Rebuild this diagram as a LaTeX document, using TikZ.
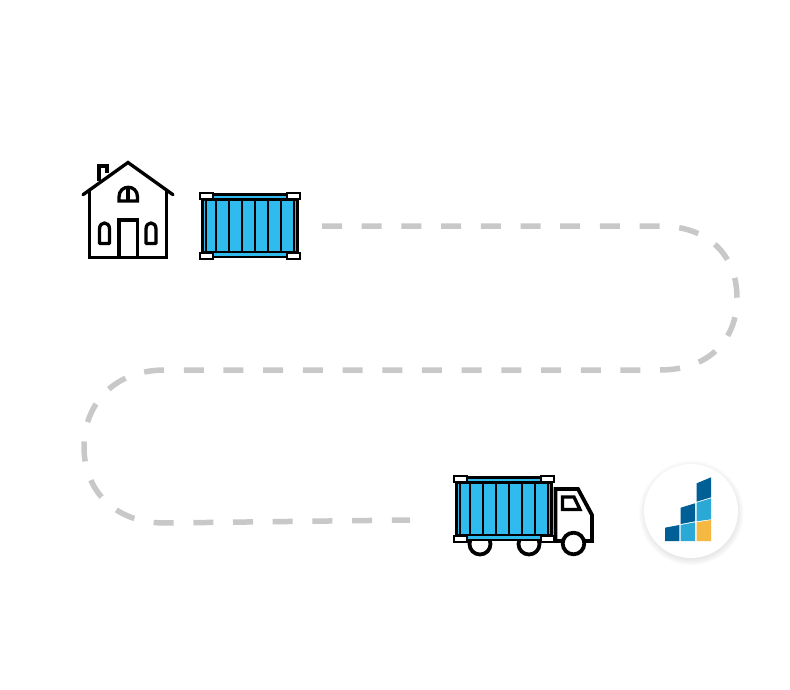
\documentclass[tikz,border=0pt]{standalone}
\usepackage{xcolor}
\usetikzlibrary{shadows}
\definecolor{cargoblue}{HTML}{2FBBEE}
\definecolor{routegray}{HTML}{C8C8C8}
\definecolor{logodark}{HTML}{005F94}
\definecolor{logolight}{HTML}{2BA9D6}
\definecolor{logoyellow}{HTML}{F5B840}
\tikzset{
    icon/.style={draw=black, line width=3.3pt, line join=miter},
    thin icon/.style={draw=black, line width=2.8pt},
    route/.style={draw=routegray, line width=5.5pt, dash pattern=on 20pt off 19.7pt},
    pics/container/.style={code={
        \fill [cargoblue] (201,194) rectangle (298,258);
        \draw [thin icon] (202.3,194.5) rectangle (297.3,257);
        \draw [thin icon] (202.3,199.5) -- (297.3,199.5);
        \draw [thin icon] (202.3,252) -- (297.3,252);
        \foreach \xrib in {206,216,229,242,255,268,281,294} {
            \draw [thin icon] (\xrib,198) -- (\xrib,253);
        }
        \foreach \xcorner in {200,287} {
            \foreach \ycorner in {193,253} {
                \draw [draw=black, line width=2pt, fill=white] (\xcorner,\ycorner) rectangle ++(12.5,5.5);
            }
        }
    }}
}
\begin{document}
\begin{tikzpicture}[x=1pt, y=-1pt]
\useasboundingbox [fill=white] (0,0) rectangle (790,690);

% route
\coordinate (routestart) at (322,226);
\coordinate (routeend) at (410,520);
\draw [route] (routestart) -- (660,226)
    .. controls (708,226) and (737,255) .. (737,298)
    .. controls (737,341) and (708,370) .. (660,370)
    -- (165,370)
    .. controls (113,370) and (84,405) .. (84,447)
    .. controls (84,489) and (113,523) .. (165,523)
    -- (routeend);

% house
\draw [icon] (99,181) -- (99,166) -- (107,166) -- (107,173);
\draw [icon, line cap=round] (83,194.7) -- (128,162.5) -- (173,194.7);
\draw [icon] (89.3,188.5) -- (89.3,257.5) -- (166.7,257.5) -- (166.7,188.5);
\draw [icon] (119,257.5) -- (119,220) -- (137.3,220) -- (137.3,257.5);
\draw [icon] (119,201) -- (119,197) .. controls (119,184) and (137.5,184) .. (137.5,197) -- (137.5,201) -- cycle;
\draw [icon] (128,188) -- (128,201);
\draw [icon, line join=round] (99.5,243.5) -- (99.5,229) .. controls (99.5,221) and (109.5,221) .. (109.5,229) -- (109.5,243.5) -- cycle;
\draw [icon, line join=round] (146,243.5) -- (146,229) .. controls (146,221) and (156,221) .. (156,229) -- (156,243.5) -- cycle;

\pic at (0,0) {container};

% truck
\draw [icon, line width=3.8pt, fill=white] (480,544) circle (10.5);
\draw [icon, line width=3.8pt, fill=white] (529,544) circle (10.5);
\draw [icon, line width=3.8pt, fill=white] (555.5,541) -- (555.5,489) -- (578,489) -- (592,515) -- (592,541) -- cycle;
\draw [icon, line width=3.8pt, fill=white] (573.5,543.5) circle (10.8);
\draw [icon] (562.5,497) -- (574,497) -- (580,509.5) -- (562.5,509.5) -- cycle;
\pic at (254,283) {container};

% logo
\node (logo) [circle, fill=white, minimum size=94pt, inner sep=0pt,
    circular drop shadow={shadow xshift=0pt, shadow yshift=-1.5pt, shadow scale=1.12, opacity=0.2}] at (691,511) {};
\fill [logodark] (665,527.7) -- (679.3,525) -- (679.3,541) -- (665,541) -- cycle;
\fill [logolight] (680.7,525) -- (695,522.3) -- (695,541) -- (680.7,541) -- cycle;
\fill [logoyellow] (696.7,522.3) -- (711,520) -- (711,541) -- (696.7,541) -- cycle;
\fill [logodark] (680.7,507.7) -- (695,503.3) -- (695,521.3) -- (680.7,524) -- cycle;
\fill [logolight] (696.7,502.7) -- (711,498.3) -- (711,519.3) -- (696.7,521.3) -- cycle;
\fill [logodark] (696.7,483.3) -- (711,477.3) -- (711,497.3) -- (696.7,501.7) -- cycle;
\end{tikzpicture}
\end{document}
